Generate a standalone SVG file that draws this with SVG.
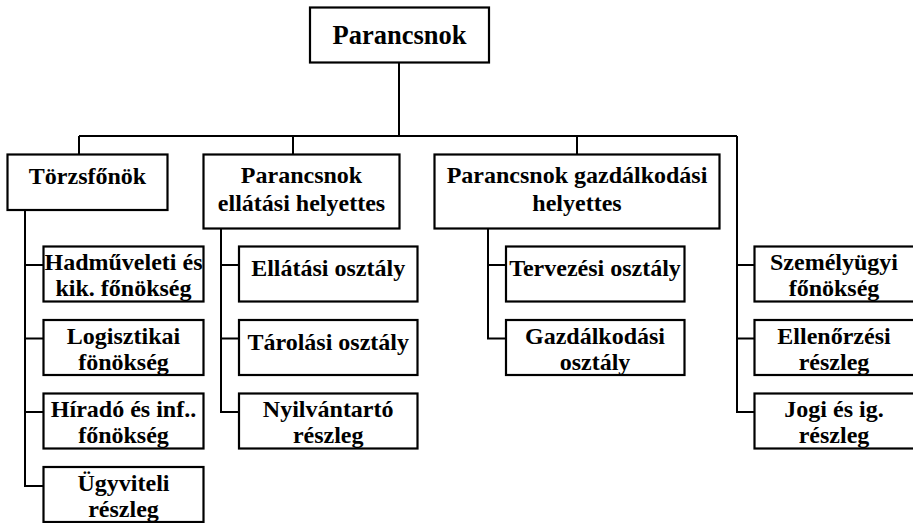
<svg xmlns="http://www.w3.org/2000/svg" width="913" height="523" viewBox="0 0 913 523">
<rect width="913" height="523" fill="#fff"/>
<g id="connectors" fill="none" stroke="#000" stroke-width="2">
<path d="M399,63V136M79,136H737M79,136V154M293,136V154M577,136V154M737,136V412H754"/>
<path d="M25,210V486H43M25,265H43M25,338.5H43M25,412H43"/>
<path d="M221,228V412H239M221,265H239M221,338.5H239"/>
<path d="M488,228V338.5H506M488,265H506"/>
<path d="M737,265H754M737,338.5H754"/>
</g>
<g fill="#fff" stroke="#000" stroke-width="2.2">
<rect id="parancsnok" x="310" y="7.5" width="179" height="55"/>
<rect id="torzsfonok" x="7.5" y="154.5" width="160" height="55.5"/>
<rect id="ellatasi-helyettes" x="203.5" y="154.5" width="196" height="74"/>
<rect id="gazdalkodasi-helyettes" x="434.5" y="154.5" width="285" height="74"/>
<rect id="hadmuveleti" x="43.5" y="246.5" width="160" height="55"/>
<rect id="logisztikai" x="43.5" y="320" width="160" height="55"/>
<rect id="hirado" x="43.5" y="393.5" width="160" height="55"/>
<rect id="ugyviteli" x="43.5" y="467" width="160" height="55"/>
<rect id="ellatasi-osztaly" x="239" y="246.5" width="178.5" height="55"/>
<rect id="tarolasi-osztaly" x="239" y="320" width="178.5" height="55"/>
<rect id="nyilvantarto" x="239" y="393.5" width="178.5" height="55"/>
<rect id="tervezesi" x="506" y="246.5" width="178.5" height="55"/>
<rect id="gazdalkodasi-osztaly" x="506" y="320" width="178.5" height="55"/>
<rect id="szemelyugyi" x="754.5" y="246.5" width="160" height="55"/>
<rect id="ellenorzesi" x="754.5" y="320" width="160" height="55"/>
<rect id="jogi" x="754.5" y="393.5" width="160" height="55"/>
</g>
<g id="labels" text-anchor="middle">
<text style="font-family:'Liberation Serif';font-weight:700;font-size:26.5px" x="399.5" y="44">Parancsnok</text>
<text style="font-family:'Liberation Serif';font-weight:700;font-size:24px" x="87.5" y="184">Törzsfőnök</text>
<text style="font-family:'Liberation Serif';font-weight:700;font-size:24px" x="301.5" y="183">Parancsnok</text>
<text style="font-family:'Liberation Serif';font-weight:700;font-size:24px" x="301.5" y="211">ellátási helyettes</text>
<text style="font-family:'Liberation Serif';font-weight:700;font-size:24px" x="577" y="183">Parancsnok gazdálkodási</text>
<text style="font-family:'Liberation Serif';font-weight:700;font-size:24px" x="577" y="211">helyettes</text>
<text style="font-family:'Liberation Serif';font-weight:700;font-size:24px" x="123.5" y="269.5">Hadműveleti és</text>
<text style="font-family:'Liberation Serif';font-weight:700;font-size:24px" x="123.5" y="295.5">kik. főnökség</text>
<text style="font-family:'Liberation Serif';font-weight:700;font-size:24px" x="123.5" y="343.5">Logisztikai</text>
<text style="font-family:'Liberation Serif';font-weight:700;font-size:24px" x="123.5" y="369.5">fönökség</text>
<text style="font-family:'Liberation Serif';font-weight:700;font-size:24px" x="123.5" y="417">Híradó és inf..</text>
<text style="font-family:'Liberation Serif';font-weight:700;font-size:24px" x="123.5" y="443">főnökség</text>
<text style="font-family:'Liberation Serif';font-weight:700;font-size:24px" x="123.5" y="490.5">Ügyviteli</text>
<text style="font-family:'Liberation Serif';font-weight:700;font-size:24px" x="123.5" y="516.5">részleg</text>
<text style="font-family:'Liberation Serif';font-weight:700;font-size:24px" x="328.2" y="276">Ellátási osztály</text>
<text style="font-family:'Liberation Serif';font-weight:700;font-size:24px" x="328.2" y="349.5">Tárolási osztály</text>
<text style="font-family:'Liberation Serif';font-weight:700;font-size:24px" x="328.2" y="417">Nyilvántartó</text>
<text style="font-family:'Liberation Serif';font-weight:700;font-size:24px" x="328.2" y="443">részleg</text>
<text style="font-family:'Liberation Serif';font-weight:700;font-size:24px" x="595" y="275.5">Tervezési osztály</text>
<text style="font-family:'Liberation Serif';font-weight:700;font-size:24px" x="595" y="343.5">Gazdálkodási</text>
<text style="font-family:'Liberation Serif';font-weight:700;font-size:24px" x="595" y="369.5">osztály</text>
<text style="font-family:'Liberation Serif';font-weight:700;font-size:24px" x="834" y="269.5">Személyügyi</text>
<text style="font-family:'Liberation Serif';font-weight:700;font-size:24px" x="834" y="295.5">főnökség</text>
<text style="font-family:'Liberation Serif';font-weight:700;font-size:24px" x="834" y="343.5">Ellenőrzési</text>
<text style="font-family:'Liberation Serif';font-weight:700;font-size:24px" x="834" y="369.5">részleg</text>
<text style="font-family:'Liberation Serif';font-weight:700;font-size:24px" x="834" y="417">Jogi és ig.</text>
<text style="font-family:'Liberation Serif';font-weight:700;font-size:24px" x="834" y="443">részleg</text>
</g>
</svg>
